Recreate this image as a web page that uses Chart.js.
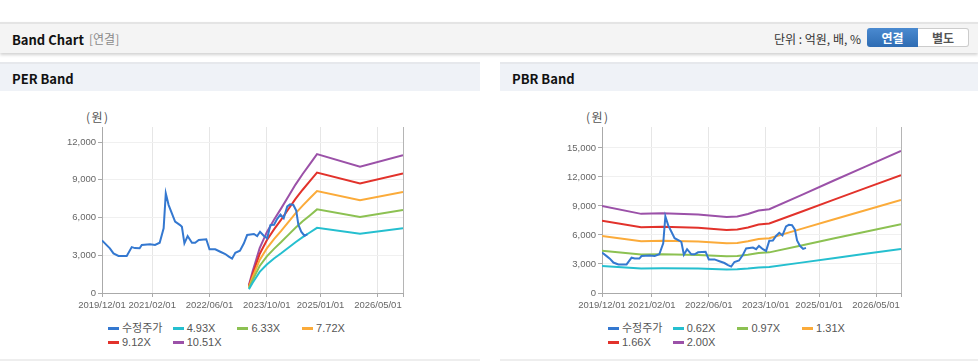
<!DOCTYPE html>
<html>
<head>
<meta charset="utf-8">
<script src="https://cdn.jsdelivr.net/npm/chart.js@4.4.1/dist/chart.umd.min.js"></script>
<style>
body { margin: 0; width: 978px; height: 362px; background: #fff; font-family: "Noto Sans CJK KR", "Liberation Sans", sans-serif; position: relative; overflow: hidden; }
.topbar { position: absolute; left: 0; top: 22px; width: 978px; height: 29px; background: #f4f4f4; border-top: 2px solid #e4e4e4; box-shadow: 0 2px 3px rgba(0,0,0,0.18); }
.topbar .title { position: absolute; left: 12px; top: 6px; font-size: 13px; font-weight: bold; color: #111; }
.topbar .sub { position: absolute; left: 89px; top: 6px; font-size: 12px; color: #8a8a8a; }
.topbar .unit { position: absolute; right: 117px; top: 6px; font-size: 12px; color: #333; }
.btn { position: absolute; top: 4px; height: 19px; width: 51px; font-size: 12px; font-weight: bold; text-align: center; line-height: 19px; box-sizing: border-box; }
.btn.on { left: 867px; background: linear-gradient(#4a8ad0, #2e6cb3); color: #fff; border-radius: 3px 0 0 3px; }
.btn.off { left: 918px; background: #fff; color: #555; border: 1px solid #ccc; border-left: none; border-radius: 0 3px 3px 0; line-height: 17px; }
.ph { position: absolute; top: 62px; height: 27px; background: #eff2f7; border-top: 2px solid #e6e8ec; }
.ph span { position: absolute; left: 12px; top: 5px; font-size: 13px; font-weight: bold; color: #111; }
.panel-foot { position: absolute; top: 359px; height: 2px; background: #eeeeee; }
.box { position: absolute; top: 95px; height: 225px; }
.unitlbl { position: absolute; top: 108px; font-size: 12px; color: #555; letter-spacing: 1.5px; }
.legend { position: absolute; top: 321px; font-family: "Liberation Sans", "Noto Sans CJK KR", sans-serif; font-size: 11px; color: #555; }
.legend .item { position: absolute; white-space: nowrap; height: 14px; line-height: 14px; }
.legend .mk { position: absolute; left: 0; top: 6px; width: 11px; height: 3px; }
.legend .tx { position: absolute; left: 14px; top: 0; }
</style>
</head>
<body>
<div class="topbar">
  <div class="title">Band Chart</div>
  <div class="sub">[연결]</div>
  <div class="unit">단위 : 억원, 배, %</div>
  <div class="btn on">연결</div>
  <div class="btn off">별도</div>
</div>
<div class="ph" style="left:0;width:480px"><span>PER Band</span></div>
<div class="ph" style="left:500px;width:478px"><span>PBR Band</span></div>
<div class="panel-foot" style="left:0;width:480px"></div>
<div class="panel-foot" style="left:500px;width:478px"></div>

<div class="unitlbl" style="left:86px">(원)</div>
<div class="unitlbl" style="left:586px">(원)</div>
<div class="box" style="left:0;width:480px"><canvas id="perChart" width="480" height="225"></canvas></div>
<div class="box" style="left:500px;width:478px"><canvas id="pbrChart" width="478" height="225"></canvas></div>
<div class="legend" id="perLegend" style="left:108px"></div>
<div class="legend" id="pbrLegend" style="left:608px"></div>

<script>
// x values are months counted from 2019/12/01
const xTickMonths = [0, 14, 30, 46, 61, 77];
const xTickLabels = ['2019/12/01', '2021/02/01', '2022/06/01', '2023/10/01', '2025/01/01', '2026/05/01'];

const priceMonths = [0, 1.3, 2.2, 3.2, 4.6, 6.9, 8.3, 9.2, 10.5, 11.1, 13.4, 14.8, 16.1, 17.2, 17.8, 18.6, 19.5, 20.4, 21.8, 22.3,
  23.0, 23.9, 25.1, 26.0, 27.0, 29.1, 30.0, 31.6, 33.0, 34.4, 35.4, 36.3, 37.2, 38.5, 39.6, 40.5, 42.4, 43.3, 44.1, 45.2,
  46.1, 47.0, 48.0, 48.9, 49.8, 50.7, 51.7, 52.5, 53.4, 54.2, 54.8, 55.6, 56.5, 57.3];
const priceValues = [4180, 3810, 3550, 3150, 2950, 2950, 3650, 3570, 3560, 3820, 3870, 3820, 4000, 5140, 7920, 6990, 6330, 5670, 5400, 5270,
  3950, 4530, 4000, 4000, 4210, 4270, 3470, 3470, 3280, 3100, 2890, 2730, 3200, 3360, 3950, 4610, 4690, 4530, 4870, 4530,
  4350, 5400, 5430, 5900, 6230, 5950, 6880, 7050, 7000, 6550, 5430, 4880, 4560, 4660];

// PER band
const perNames = ['4.93X', '6.33X', '7.72X', '9.12X', '10.51X'];
const perMonths = [41, 42, 43, 44, 46, 48, 50, 52, 54, 56, 58, 60, 72, 84];
const per1 = [300, 790, 1230, 1680, 2270, 2740, 3160, 3600, 4040, 4440, 4810, 5180, 4710, 5140];
const per2 = [380, 1010, 1580, 2150, 2910, 3510, 4050, 4620, 5190, 5700, 6170, 6650, 6050, 6600];
const per3 = [460, 1240, 1930, 2630, 3550, 4290, 4940, 5640, 6330, 6950, 7530, 8110, 7370, 8040];
const per4 = [550, 1460, 2280, 3100, 4200, 5060, 5840, 6660, 7480, 8210, 8890, 9580, 8710, 9500];
const per5 = [630, 1680, 2630, 3570, 4840, 5830, 6730, 7670, 8620, 9460, 10250, 11040, 10040, 10950];
const perYTicks = [0, 3000, 6000, 9000, 12000];

// PBR band
const pbrNames = ['0.62X', '0.97X', '1.31X', '1.66X', '2.00X'];
const pbrMonths = [0, 11, 17, 27, 35, 38, 41, 44, 47, 56, 65, 74, 84];
const pbr1 = [2790, 2540, 2550, 2520, 2440, 2450, 2530, 2640, 2690, 3140, 3600, 4050, 4550];
const pbr2 = [4370, 3970, 4000, 3940, 3810, 3830, 3960, 4130, 4200, 4910, 5630, 6330, 7120];
const pbr3 = [5900, 5360, 5400, 5320, 5150, 5180, 5350, 5580, 5670, 6630, 7600, 8550, 9620];
const pbr4 = [7470, 6790, 6840, 6740, 6520, 6560, 6770, 7070, 7190, 8400, 9630, 10840, 12180];
const pbr5 = [9000, 8180, 8240, 8120, 7860, 7900, 8160, 8520, 8660, 10120, 11600, 13060, 14680];
const pbrYTicks = [0, 3000, 6000, 9000, 12000, 15000];

const priceName = '수정주가';
const priceColor = '#3478d0';
const bandColors = ['#25bfcf', '#8cc152', '#fbab3a', '#e2322b', '#9b51a8'];

function pts(xs, ys) {
    return xs.map((x, i) => ({ x: x, y: ys[i] }));
}

function line(label, data, color) {
    return { label: label, data: data, borderColor: color, backgroundColor: color, borderWidth: 2, pointRadius: 0, tension: 0 };
}

function makeChart(id, names, months, bands, yTicks, yMax) {
    const datasets = [line(priceName, pts(priceMonths, priceValues), priceColor)];
    bands.forEach((b, i) => datasets.push(line(names[i], pts(months, b), bandColors[i])));
    const tickFont = { family: '"Liberation Sans", Arial, sans-serif', size: 9.5 };
    return new Chart(document.getElementById(id).getContext('2d'), {
        type: 'line',
        data: { datasets: datasets },
        options: {
            responsive: false, animation: false, devicePixelRatio: 1,
            layout: { padding: { left: 0, right: 77, top: 32, bottom: 7 } },
            plugins: { legend: { display: false }, tooltip: { enabled: false } },
            scales: {
                x: {
                    type: 'linear', min: 0, max: 84,
                    afterBuildTicks: s => { s.ticks = xTickMonths.concat([84]).map(v => ({ value: v })); },
                    afterFit: s => { s.height = 20; },
                    ticks: {
                        autoSkip: false, maxRotation: 0, color: '#666', font: tickFont, padding: 3,
                        callback: v => { const i = xTickMonths.indexOf(v); return i >= 0 ? xTickLabels[i] : ''; }
                    },
                    grid: { color: c => (c.tick && c.tick.value === 84 ? '#b5b5b5' : '#e6e6e6'), tickColor: '#aaa', tickLength: 4 },
                    border: { color: '#aaa' }
                },
                y: {
                    min: 0, max: yMax,
                    afterBuildTicks: s => { s.ticks = yTicks.map(v => ({ value: v })); },
                    afterFit: s => { s.width = 102; },
                    ticks: { color: '#666', font: tickFont, padding: 2, callback: v => v.toLocaleString('en-US') },
                    grid: { color: '#f0f0f0', tickColor: '#aaa', tickLength: 4 },
                    border: { color: '#aaa' }
                }
            }
        }
    });
}

function makeLegend(id, names) {
    const el = document.getElementById(id);
    const items = [[priceName, priceColor]].concat(names.map((n, i) => [n, bandColors[i]]));
    items.forEach((it, i) => {
        const d = document.createElement('div');
        d.className = 'item';
        d.style.left = ((i % 4) * 64.7) + 'px';
        d.style.top = (Math.floor(i / 4) * 14) + 'px';
        d.innerHTML = '<div class="mk" style="background:' + it[1] + '"></div><div class="tx">' + it[0] + '</div>';
        el.appendChild(d);
    });
}

makeChart('perChart', perNames, perMonths, [per1, per2, per3, per4, per5], perYTicks, 13200);
makeChart('pbrChart', pbrNames, pbrMonths, [pbr1, pbr2, pbr3, pbr4, pbr5], pbrYTicks, 17160);
makeLegend('perLegend', perNames);
makeLegend('pbrLegend', pbrNames);
</script>
</body>
</html>
